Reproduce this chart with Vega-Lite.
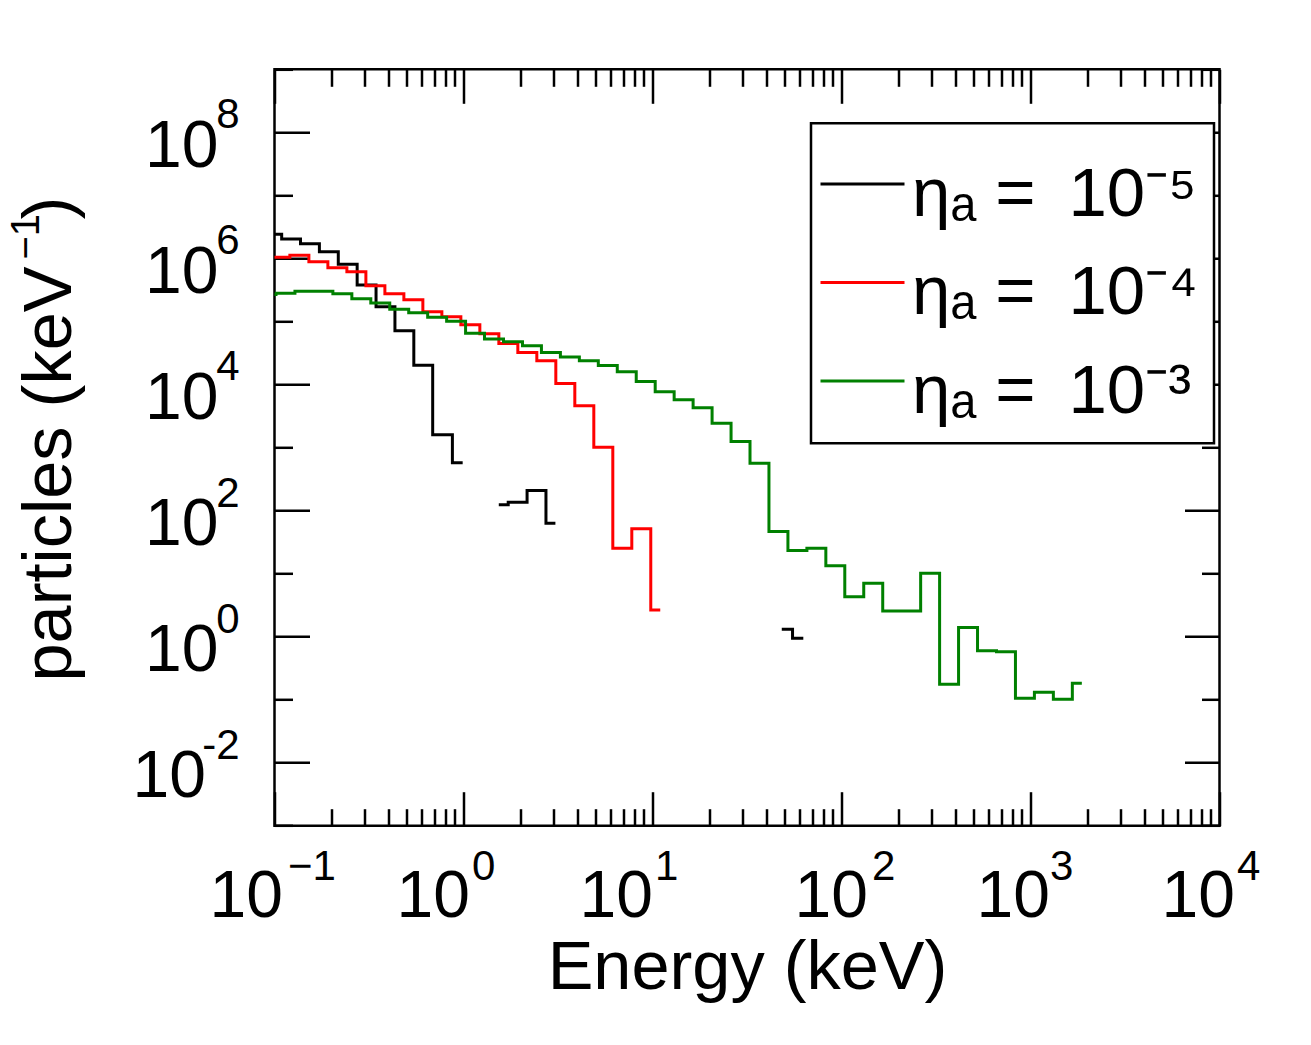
{
  "$schema": "https://vega.github.io/schema/vega-lite/v6.json",
  "width": 945,
  "height": 756.4,
  "autosize": {"type": "none"},
  "padding": {"left": 274.5, "top": 69.3, "right": 91.5, "bottom": 219.3},
  "background": "white",
  "config": {
    "font": "Liberation Sans",
    "view": {"stroke": "black", "strokeWidth": 2.5},
    "axis": {
      "grid": false,
      "domain": false,
      "labelColor": "black",
      "titleColor": "black",
      "tickColor": "black",
      "tickWidth": 2.5,
      "labelFlush": false,
      "labelOverlap": false,
      "labelBound": false,
      "labelFont": "Liberation Sans",
      "titleFont": "Liberation Sans",
      "titleFontWeight": "normal",
      "titleLimit": 0
    },
    "legend": {
      "labelFont": "Liberation Sans",
      "labelFontSize": 69,
      "labelColor": "black",
      "labelLimit": 0,
      "labelOffset": 6,
      "symbolSize": 7056,
      "symbolStrokeWidth": 3,
      "symbolOffset": -8,
      "rowPadding": 19.5,
      "padding": 16,
      "strokeColor": "black",
      "strokeWidth": 2.5,
      "fillColor": "white",
      "titleFontSize": 12,
      "titlePadding": 0
    }
  },
  "data": {
    "values": [
      {"s": "1e-5", "seg": 1, "e": 0.0973, "n": 2410000},
      {"s": "1e-5", "seg": 1, "e": 0.1224, "n": 2030000},
      {"s": "1e-5", "seg": 1, "e": 0.154, "n": 1710000},
      {"s": "1e-5", "seg": 1, "e": 0.1939, "n": 1280000},
      {"s": "1e-5", "seg": 1, "e": 0.244, "n": 805000},
      {"s": "1e-5", "seg": 1, "e": 0.3071, "n": 378000},
      {"s": "1e-5", "seg": 1, "e": 0.3866, "n": 171000},
      {"s": "1e-5", "seg": 1, "e": 0.4866, "n": 71300},
      {"s": "1e-5", "seg": 1, "e": 0.6124, "n": 20100},
      {"s": "1e-5", "seg": 1, "e": 0.7707, "n": 1600},
      {"s": "1e-5", "seg": 1, "e": 0.99, "n": 574},
      {"s": "1e-5", "seg": 2, "e": 1.537, "n": 124},
      {"s": "1e-5", "seg": 2, "e": 1.934, "n": 135},
      {"s": "1e-5", "seg": 2, "e": 2.434, "n": 207},
      {"s": "1e-5", "seg": 2, "e": 3.064, "n": 62.8},
      {"s": "1e-5", "seg": 3, "e": 48.3, "n": 1.306},
      {"s": "1e-5", "seg": 3, "e": 62.8, "n": 0.94},
      {"s": "1e-4", "seg": 1, "e": 0.0852, "n": 1040000},
      {"s": "1e-4", "seg": 1, "e": 0.1074, "n": 1040000},
      {"s": "1e-4", "seg": 1, "e": 0.1354, "n": 1120000},
      {"s": "1e-4", "seg": 1, "e": 0.1707, "n": 885000},
      {"s": "1e-4", "seg": 1, "e": 0.2151, "n": 711000},
      {"s": "1e-4", "seg": 1, "e": 0.2712, "n": 615000},
      {"s": "1e-4", "seg": 1, "e": 0.3418, "n": 369000},
      {"s": "1e-4", "seg": 1, "e": 0.4308, "n": 275000},
      {"s": "1e-4", "seg": 1, "e": 0.5429, "n": 221000},
      {"s": "1e-4", "seg": 1, "e": 0.6843, "n": 143000},
      {"s": "1e-4", "seg": 1, "e": 0.8625, "n": 119000},
      {"s": "1e-4", "seg": 1, "e": 1.087, "n": 88700},
      {"s": "1e-4", "seg": 1, "e": 1.37, "n": 63700},
      {"s": "1e-4", "seg": 1, "e": 1.727, "n": 44700},
      {"s": "1e-4", "seg": 1, "e": 2.176, "n": 32100},
      {"s": "1e-4", "seg": 1, "e": 2.743, "n": 23800},
      {"s": "1e-4", "seg": 1, "e": 3.457, "n": 10400},
      {"s": "1e-4", "seg": 1, "e": 4.357, "n": 4600},
      {"s": "1e-4", "seg": 1, "e": 5.492, "n": 1010},
      {"s": "1e-4", "seg": 1, "e": 6.922, "n": 25.2},
      {"s": "1e-4", "seg": 1, "e": 8.724, "n": 51.5},
      {"s": "1e-4", "seg": 1, "e": 10.99, "n": 2.64},
      {"s": "1e-3", "seg": 1, "e": 0.0907, "n": 267000},
      {"s": "1e-3", "seg": 1, "e": 0.1143, "n": 279000},
      {"s": "1e-3", "seg": 1, "e": 0.144, "n": 301000},
      {"s": "1e-3", "seg": 1, "e": 0.1814, "n": 301000},
      {"s": "1e-3", "seg": 1, "e": 0.2286, "n": 275000},
      {"s": "1e-3", "seg": 1, "e": 0.288, "n": 229000},
      {"s": "1e-3", "seg": 1, "e": 0.3628, "n": 196000},
      {"s": "1e-3", "seg": 1, "e": 0.457, "n": 156000},
      {"s": "1e-3", "seg": 1, "e": 0.5758, "n": 137000},
      {"s": "1e-3", "seg": 1, "e": 0.7254, "n": 116000},
      {"s": "1e-3", "seg": 1, "e": 0.9139, "n": 100500},
      {"s": "1e-3", "seg": 1, "e": 1.151, "n": 64900},
      {"s": "1e-3", "seg": 1, "e": 1.45, "n": 52600},
      {"s": "1e-3", "seg": 1, "e": 1.828, "n": 47600},
      {"s": "1e-3", "seg": 1, "e": 2.302, "n": 41200},
      {"s": "1e-3", "seg": 1, "e": 2.901, "n": 32100},
      {"s": "1e-3", "seg": 1, "e": 3.655, "n": 27300},
      {"s": "1e-3", "seg": 1, "e": 4.604, "n": 23800},
      {"s": "1e-3", "seg": 1, "e": 5.8, "n": 20000},
      {"s": "1e-3", "seg": 1, "e": 7.308, "n": 15900},
      {"s": "1e-3", "seg": 1, "e": 9.207, "n": 11100},
      {"s": "1e-3", "seg": 1, "e": 11.6, "n": 7670},
      {"s": "1e-3", "seg": 1, "e": 14.61, "n": 5730},
      {"s": "1e-3", "seg": 1, "e": 18.41, "n": 4280},
      {"s": "1e-3", "seg": 1, "e": 23.2, "n": 2420},
      {"s": "1e-3", "seg": 1, "e": 29.23, "n": 1240},
      {"s": "1e-3", "seg": 1, "e": 36.81, "n": 561},
      {"s": "1e-3", "seg": 1, "e": 46.38, "n": 46.6},
      {"s": "1e-3", "seg": 1, "e": 58.45, "n": 23.2},
      {"s": "1e-3", "seg": 1, "e": 73.62, "n": 25.2},
      {"s": "1e-3", "seg": 1, "e": 92.75, "n": 13.3},
      {"s": "1e-3", "seg": 1, "e": 116.8, "n": 4.3},
      {"s": "1e-3", "seg": 1, "e": 147.2, "n": 7.02},
      {"s": "1e-3", "seg": 1, "e": 185.5, "n": 2.55},
      {"s": "1e-3", "seg": 1, "e": 233.7, "n": 2.55},
      {"s": "1e-3", "seg": 1, "e": 294.4, "n": 10.1},
      {"s": "1e-3", "seg": 1, "e": 370.9, "n": 0.175},
      {"s": "1e-3", "seg": 1, "e": 467.2, "n": 1.39},
      {"s": "1e-3", "seg": 1, "e": 588.8, "n": 0.598},
      {"s": "1e-3", "seg": 1, "e": 741.8, "n": 0.577},
      {"s": "1e-3", "seg": 1, "e": 934.3, "n": 0.105},
      {"s": "1e-3", "seg": 1, "e": 1177, "n": 0.131},
      {"s": "1e-3", "seg": 1, "e": 1483, "n": 0.101},
      {"s": "1e-3", "seg": 1, "e": 1869, "n": 0.182}
    ]
  },
  "layer": [
    {
      "transform": [{"filter": "datum.s == '1e-5' && datum.seg == 1"}],
      "mark": {"type": "line", "interpolate": "step", "strokeWidth": 3, "clip": true},
      "encoding": {
        "x": {
          "field": "e", "type": "quantitative",
          "scale": {"type": "log", "domain": [0.1, 10000], "nice": false},
          "axis": {
            "orient": "bottom",
            "values": [0.1,0.2,0.3,0.4,0.5,0.6,0.7,0.8,0.9,1,2,3,4,5,6,7,8,9,10,20,30,40,50,60,70,80,90,100,200,300,400,500,600,700,800,900,1000,2000,3000,4000,5000,6000,7000,8000,9000,10000],
            "labels": false,
            "tickSize": {"condition": {"test": "indexof([0.1,1,10,100,1000,10000], datum.value) >= 0", "value": -34}, "value": -17},
            "title": null
          }
        },
        "y": {
          "field": "n", "type": "quantitative",
          "scale": {"type": "log", "domain": [0.001, 1000000000], "nice": false},
          "axis": {
            "orient": "left",
            "values": [0.001,0.01,0.1,1,10,100,1000,10000,100000,1000000,10000000,100000000,1000000000],
            "labels": false,
            "tickSize": {"condition": {"test": "indexof([0.01,1,100,10000,1000000,100000000], datum.value) >= 0", "value": -35}, "value": -18},
            "title": "particles (keV",
            "titleFontSize": 68.5,
            "titleAngle": 270,
            "titleAlign": "left",
            "titleBaseline": "alphabetic",
            "titleX": -204.5,
            "titleY": 611.7
          }
        },
        "color": {
          "field": "s", "type": "nominal",
          "scale": {"domain": ["1e-5", "1e-4", "1e-3"], "range": ["#000000", "#ff0000", "#008000"]},
          "legend": {
            "orient": "none",
            "legendX": 536.5,
            "legendY": 54,
            "title": " ",
            "symbolType": "M-1,-0.26L1,-0.26",
            "labelExpr": "datum.label == '1e-5' ? 'η\u2090 = \u200910\u207b\u2075' : datum.label == '1e-4' ? 'η\u2090 = \u200910\u207b\u2074' : 'η\u2090 = \u200910\u207b\u00b3'"
          }
        },
        "detail": {"field": "seg"}
      }
    },
    {
      "transform": [{"filter": "datum.s == '1e-4'"}],
      "mark": {"type": "line", "interpolate": "step", "strokeWidth": 3, "clip": true},
      "encoding": {
        "x": {
          "field": "e", "type": "quantitative",
          "scale": {"type": "log", "domain": [0.1, 10000], "nice": false},
          "axis": {
            "orient": "bottom",
            "values": [0.1, 1, 10, 100, 1000, 10000],
            "ticks": false,
            "labelExpr": "'10'",
            "labelAlign": "right",
            "labelBaseline": "alphabetic",
            "labelPadding": 90.3,
            "labelFontSize": 66,
            "labelOffset": {"condition": [
              {"test": "datum.value < 0.5", "value": 8},
              {"test": "datum.value < 5", "value": 6},
              {"test": "datum.value < 50", "value": 0},
              {"test": "datum.value < 500", "value": 26},
              {"test": "datum.value < 5000", "value": 19}
            ], "value": 15},
            "title": "Energy (keV)",
            "titleFontSize": 68.5,
            "titleAlign": "center",
            "titleBaseline": "alphabetic",
            "titleX": 472.5,
            "titleY": 162.3
          }
        },
        "y": {
          "field": "n", "type": "quantitative",
          "scale": {"type": "log", "domain": [0.001, 1000000000], "nice": false},
          "axis": {
            "orient": "left",
            "values": [0.01, 1, 100, 10000, 1000000, 100000000],
            "ticks": false,
            "labelExpr": "'10'",
            "labelAlign": "right",
            "labelBaseline": "alphabetic",
            "labelOffset": 34,
            "labelPadding": {"condition": {"test": "datum.value < 0.1", "value": 69}, "value": 56.5},
            "labelFontSize": 66,
            "title": null
          }
        },
        "color": {"field": "s", "type": "nominal", "scale": {"domain": ["1e-5", "1e-4", "1e-3"], "range": ["#000000", "#ff0000", "#008000"]}},
        "detail": {"field": "seg"}
      }
    },
    {
      "transform": [{"filter": "datum.s == '1e-3'"}],
      "mark": {"type": "line", "interpolate": "step", "strokeWidth": 3, "clip": true},
      "encoding": {
        "x": {
          "field": "e", "type": "quantitative",
          "scale": {"type": "log", "domain": [0.1, 10000], "nice": false},
          "axis": {
            "orient": "bottom",
            "values": [0.1, 1, 10, 100, 1000, 10000],
            "ticks": false,
            "labelExpr": "datum.value < 0.5 ? '\u22121' : '' + round(log(datum.value) / LN10)",
            "labelAlign": "left",
            "labelBaseline": "alphabetic",
            "labelPadding": 53.3,
            "labelFontSize": 42,
            "labelOffset": {"condition": [
              {"test": "datum.value < 0.5", "value": 13},
              {"test": "datum.value < 5", "value": 8},
              {"test": "datum.value < 50", "value": 2},
              {"test": "datum.value < 500", "value": 30},
              {"test": "datum.value < 5000", "value": 19}
            ], "value": 17},
            "title": null
          }
        },
        "y": {
          "field": "n", "type": "quantitative",
          "scale": {"type": "log", "domain": [0.001, 1000000000], "nice": false},
          "axis": {
            "orient": "left",
            "values": [0.01, 1, 100, 10000, 1000000, 100000000],
            "ticks": false,
            "labelExpr": "'' + round(log(datum.value) / LN10)",
            "labelAlign": "right",
            "labelBaseline": "alphabetic",
            "labelOffset": -4.5,
            "labelPadding": 35.5,
            "labelFontSize": 42,
            "title": "\u22121",
            "titleFontSize": 40,
            "titleAngle": 270,
            "titleAlign": "left",
            "titleBaseline": "alphabetic",
            "titleX": -236,
            "titleY": 189.7
          }
        },
        "color": {"field": "s", "type": "nominal", "scale": {"domain": ["1e-5", "1e-4", "1e-3"], "range": ["#000000", "#ff0000", "#008000"]}},
        "detail": {"field": "seg"}
      }
    },
    {
      "transform": [{"filter": "datum.s == '1e-5' && datum.seg > 1"}],
      "mark": {"type": "line", "interpolate": "step", "strokeWidth": 3, "clip": true},
      "encoding": {
        "x": {
          "field": "e", "type": "quantitative",
          "scale": {"type": "log", "domain": [0.1, 10000], "nice": false},
          "axis": {
            "orient": "top",
            "values": [0.1,0.2,0.3,0.4,0.5,0.6,0.7,0.8,0.9,1,2,3,4,5,6,7,8,9,10,20,30,40,50,60,70,80,90,100,200,300,400,500,600,700,800,900,1000,2000,3000,4000,5000,6000,7000,8000,9000,10000],
            "labels": false,
            "tickSize": {"condition": {"test": "indexof([0.1,1,10,100,1000,10000], datum.value) >= 0", "value": -34}, "value": -17},
            "title": null
          }
        },
        "y": {
          "field": "n", "type": "quantitative",
          "scale": {"type": "log", "domain": [0.001, 1000000000], "nice": false},
          "axis": {
            "orient": "right",
            "values": [0.001,0.01,0.1,1,10,100,1000,10000,100000,1000000,10000000,100000000,1000000000],
            "labels": false,
            "tickSize": {"condition": {"test": "indexof([0.01,1,100,10000,1000000,100000000], datum.value) >= 0", "value": -35}, "value": -18},
            "title": ")",
            "titleFontSize": 68.5,
            "titleAngle": 270,
            "titleAlign": "left",
            "titleBaseline": "alphabetic",
            "titleX": -1149.5,
            "titleY": 149.7
          }
        },
        "color": {"field": "s", "type": "nominal", "scale": {"domain": ["1e-5", "1e-4", "1e-3"], "range": ["#000000", "#ff0000", "#008000"]}},
        "detail": {"field": "seg"}
      }
    }
  ],
  "resolve": {"axis": {"x": "independent", "y": "independent"}}
}
